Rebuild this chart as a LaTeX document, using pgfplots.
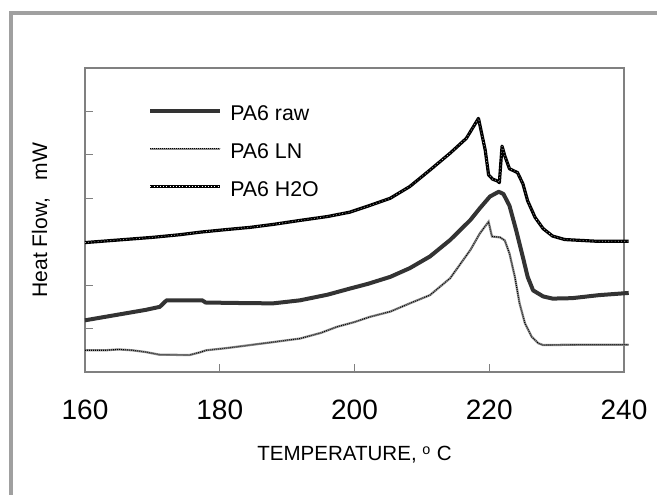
\documentclass[border=0pt]{standalone}
\usepackage{fontspec}
\setmainfont{Liberation Sans}
\usepackage{pgfplots}
\pgfplotsset{compat=1.18}
\definecolor{framegray}{RGB}{160,160,160}
\definecolor{axgray}{RGB}{128,128,128}
\definecolor{rawc}{RGB}{51,51,51}
\definecolor{lnc}{RGB}{140,140,140}
\begin{document}
\begin{tikzpicture}
\draw[framegray, line width=3pt] (6.75pt,361.5pt) -- (495pt,361.5pt);
\draw[framegray, line width=3pt] (8.25pt,361.5pt) -- (8.25pt,-2pt);
\begin{axis}[
  at={(63.75pt,92.25pt)}, anchor=south west,
  scale only axis, width=404.25pt, height=228pt,
  xmin=160, xmax=240, ymin=0, ymax=7,
  clip=false,
  axis line style={axgray, line width=0.8pt},
  xtick={160,180,200,220,240}, ytick={0,1,2,3,4,5,6,7},
  yticklabels={},
  xtick pos=bottom, ytick pos=left,
  tick align=inside,
  major tick length=6pt,
  tick style={axgray, line width=0.6pt},
  /pgf/number format/assume math mode=true,
  xticklabel style={font=\fontsize{21}{21}\selectfont, anchor=base, yshift=-36pt},
  xlabel={TEMPERATURE, \textsuperscript{o} C},
  xlabel style={at={(axis description cs:0.5,0)}, anchor=base, yshift=-66.75pt, font=\fontsize{15.4}{16}\selectfont},
  ylabel={Heat Flow,\hspace{0.85em}mW},
  ylabel style={at={(axis description cs:-0.0705,0.5)}, anchor=base, font=\fontsize{15.8}{16}\selectfont},
  legend style={draw=none, fill=none, at={(rel axis cs:0.117,0.886)}, anchor=north west,
    inner sep=0pt, row sep=11.75pt, column sep=4pt, font=\fontsize{16}{16}\selectfont},
  legend image code/.code={\draw[#1] (0pt,2.3pt) -- (52.5pt,2.3pt);},
  legend cell align=left,
]
\addplot[rawc, line width=3pt, line join=round] coordinates {
(160,1.19)(163,1.27)(166,1.35)(169,1.43)(171.1,1.50)(172.1,1.65)(177.4,1.65)(177.9,1.60)(182,1.59)(187.9,1.58)(191.9,1.65)(196,1.78)(199.3,1.92)(202,2.03)(205.3,2.19)(208.2,2.39)(211.2,2.66)(214.2,3.04)(217.2,3.50)(218.6,3.77)(220.1,4.04)(221.4,4.15)(222.1,4.10)(223,3.83)(224,3.26)(225,2.64)(225.7,2.19)(226.5,1.88)(228,1.74)(229.4,1.69)(232.3,1.70)(236.3,1.77)(240.7,1.82)
};
\addlegendentry{PA6 raw}
\addplot[lnc, line width=1.7pt, postaction={draw, black, line width=0.8pt, dash pattern=on 0.6pt off 0.9pt}] coordinates {
(160,0.50)(163,0.50)(165,0.52)(167,0.50)(169,0.46)(171,0.40)(175.5,0.39)(177,0.45)(178,0.50)(181,0.55)(184.5,0.62)(188,0.69)(191.9,0.77)(195,0.90)(197.4,1.04)(200,1.15)(202.3,1.27)(205.3,1.39)(208.2,1.58)(211.2,1.77)(214.2,2.16)(217.2,2.81)(218.6,3.19)(219.9,3.46)(220.4,3.12)(221.6,3.10)(222.3,3.03)(223,2.73)(223.8,2.19)(224.5,1.58)(225.3,1.12)(226.3,0.81)(227.3,0.66)(228,0.62)(234,0.63)(240.7,0.63)
};
\addlegendentry{PA6 LN}
\addplot[black, line width=2.4pt, line join=round, postaction={draw, white, line width=0.5pt, dash pattern=on 0.4pt off 2pt}] coordinates {
(160,2.98)(165,3.04)(170,3.10)(174,3.16)(177.1,3.22)(181,3.28)(184.5,3.33)(188,3.40)(191.9,3.49)(196,3.58)(199.3,3.68)(202,3.82)(205.3,4.00)(208.2,4.27)(211.2,4.65)(214.2,5.04)(216.6,5.38)(218.4,5.84)(219.4,5.11)(219.9,4.54)(220.5,4.44)(221.2,4.40)(221.5,4.36)(221.9,5.20)(222.3,4.98)(223,4.68)(224.2,4.59)(225,4.33)(225.7,3.94)(226.8,3.56)(228,3.30)(229.4,3.13)(231.2,3.05)(236,3.01)(240.7,3.01)
};
\addlegendentry{PA6 H2O}
\end{axis}
\pgfresetboundingbox
\path (0,0) rectangle (492.75pt,371.25pt);
\end{tikzpicture}
\end{document}
